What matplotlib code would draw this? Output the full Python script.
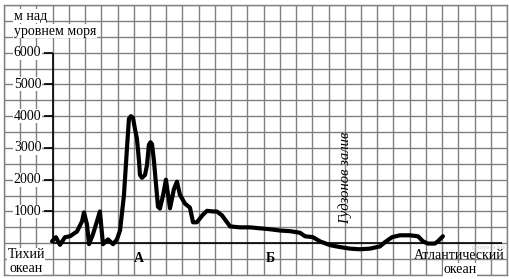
import numpy as np
import matplotlib
matplotlib.use("Agg")
import matplotlib.pyplot as plt

# profile: distance along section (grid cells) and height (m above sea level)
dist = [2.96, 3.20, 3.45, 3.76, 4.07, 4.50, 4.81, 4.93, 5.11, 5.24, 5.48, 5.73,
        5.91, 6.10, 6.41, 6.72, 6.96, 7.15, 7.39, 7.58, 7.70, 7.82, 7.95, 8.07,
        8.19, 8.32, 8.38, 8.50, 8.69, 8.81, 8.93, 9.03, 9.12, 9.24, 9.37, 9.49,
        9.61, 9.80, 9.98, 10.23, 10.47, 10.66, 10.84, 11.15, 11.46, 11.65, 11.89,
        12.26, 12.51, 12.88, 13.12, 13.43, 13.93, 14.54, 15.16, 15.77, 16.39,
        17.01, 17.62, 18.24, 18.55, 19.04, 19.47, 20.09, 20.70, 21.32, 21.93,
        22.55, 23.17, 23.47, 23.91, 24.40, 25.02, 25.51, 25.82, 26.12, 26.56,
        26.74, 27.05]
height = [60, 190, -50, 190, 220, 370, 690, 970, 600, -30, 280, 690,
          1000, -30, 120, -30, 120, 400, 1500, 3000, 3920, 4000, 3950, 3600,
          3300, 2600, 2150, 2060, 2150, 2450, 3100, 3180, 3120, 2600, 1840, 1150,
          1090, 1500, 2000, 1100, 1700, 1940, 1530, 1250, 1120, 660, 660,
          900, 1020, 1000, 1000, 880, 530, 500, 500, 470, 440,
          400, 380, 330, 220, 190, 60, -60, -120, -170, -190,
          -170, -100, 30, 190, 250, 250, 220, 60, -10, -10,
          60, 220]

yticks = [1000, 2000, 3000, 4000, 5000, 6000]
place_names = ["А", "Б"]
place_dist = [8.32, 16.45]

fig = plt.figure(figsize=(5.10, 2.79), dpi=100)
# axes = grid area (pixels 4..507 x 5..275)
ax = fig.add_axes([4 / 510, 4 / 279, 503 / 510, 270 / 279])
ax.set_xlim(0, 31)
ax.set_ylim(-1000, 7500)
ax.set_xticks(np.arange(0, 32, 1))
ax.set_yticks(np.arange(-1000, 7501, 500))
ax.tick_params(length=0, labelbottom=False, labelleft=False)
ax.grid(True, color="#808080", linewidth=1.0)
for s in ax.spines.values():
    s.set_color("#808080")
    s.set_linewidth(1.0)

font = "Liberation Serif"
fs = 10
wbox = dict(facecolor="white", edgecolor="none", pad=0.3)

# axes of the profile
ax.vlines(3, 0, max(yticks), color="black", linewidth=1.2, zorder=3)
ax.hlines(0, 3, 30.7, color="black", linewidth=1.2, zorder=3)
ax.hlines(yticks, 2.45, 3, color="black", linewidth=1.2, zorder=3)
for v in yticks:
    ax.text(2.3, v, str(v), ha="right", va="center", family=font, fontsize=fs,
            bbox=wbox, zorder=4)

ax.text(0.6, 7150, "м над", ha="left", va="center", family=font, fontsize=fs,
        bbox=wbox, zorder=4)
ax.text(0.6, 6680, "уровнем моря", ha="left", va="center", family=font,
        fontsize=fs, bbox=wbox, zorder=4)

ax.plot(dist, height, color="black", linewidth=3.0, solid_joinstyle="round",
        solid_capstyle="round", zorder=5)

ax.text(1.36, -360, "Тихий", ha="center", va="center", family=font, fontsize=fs,
        bbox=wbox, zorder=4)
ax.text(1.36, -780, "океан", ha="center", va="center", family=font, fontsize=fs,
        bbox=wbox, zorder=4)
for name, d in zip(place_names, place_dist):
    ax.text(d, -470, name, ha="center", va="center", family=font, fontsize=fs,
            fontweight="bold", zorder=4)

ax.text(30.95, -130, "решуогэ.рф", ha="right", va="center", family="DejaVu Sans",
        fontsize=4, color="#cccccc", zorder=3)
ax.text(28.07, -390, "Атлантический", ha="center", va="center", family=font,
        fontsize=fs, zorder=4)
ax.text(28.1, -830, "океан", ha="center", va="center", family=font, fontsize=fs,
        bbox=wbox, zorder=4)

ax.text(21.0, 2050, "Гудзонов залив", rotation=90, ha="center", va="center",
        family=font, style="italic", fontsize=10.5, zorder=4)

fig.savefig("out.png", dpi=100)
